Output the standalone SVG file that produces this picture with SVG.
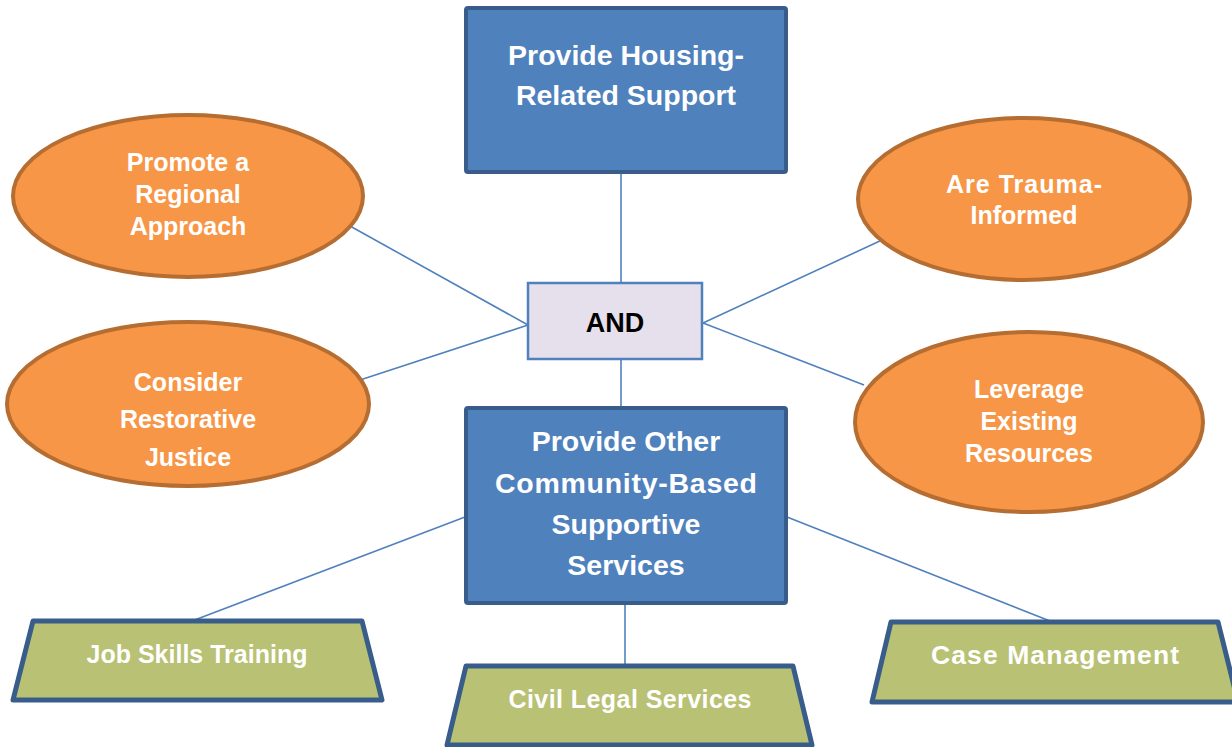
<svg xmlns="http://www.w3.org/2000/svg" width="1232" height="747" viewBox="0 0 1232 747">
<style>
.box{fill:#4F81BD;stroke:#385D8A;stroke-width:4;stroke-linejoin:round}
.ell{fill:#F79646;stroke:#B66D31;stroke-width:4}
.trap{fill:#B9C174;stroke:#385D8A;stroke-width:5;stroke-linejoin:round}
.and{fill:#E6E0EC;stroke:#4F81BD;stroke-width:2.5}
.conn line{stroke:#4F81BD;stroke-width:1.6}
text{font-family:"Liberation Sans",Arial,sans-serif;font-weight:bold;text-anchor:middle;fill:#FFFFFF}
.big{font-size:28.5px}
.mid{font-size:25px}
.andt{font-size:27px;fill:#000000}
</style>
<rect width="1232" height="747" fill="#FFFFFF"/>
<g class="conn" id="connectors">
<line x1="621" y1="171" x2="621" y2="283"/>
<line x1="621" y1="359" x2="621" y2="408"/>
<line x1="350" y1="226" x2="528" y2="325"/>
<line x1="360" y1="380" x2="528" y2="325"/>
<line x1="882" y1="240" x2="703" y2="323"/>
<line x1="864" y1="385" x2="703" y2="323"/>
<line x1="465" y1="517" x2="192" y2="621"/>
<line x1="787" y1="517" x2="1050" y2="621"/>
<line x1="625" y1="603" x2="625" y2="666"/>
</g>
<g id="housing">
<rect class="box" x="466" y="8" width="320" height="164" rx="2"/>
<text class="big" x="626" y="65">Provide Housing-</text>
<text class="big" x="626" y="105">Related Support</text>
</g>
<g id="and">
<rect class="and" x="528" y="283" width="174" height="76"/>
<text class="andt" x="615" y="332">AND</text>
</g>
<g id="other">
<rect class="box" x="466" y="408" width="320" height="195" rx="2"/>
<text class="big" x="626" y="451">Provide Other</text>
<text class="big" x="626" y="493" textLength="262" lengthAdjust="spacing">Community-Based</text>
<text class="big" x="626" y="534">Supportive</text>
<text class="big" x="626" y="575">Services</text>
</g>
<g id="regional">
<ellipse class="ell" cx="188" cy="196" rx="175" ry="81"/>
<text class="mid" x="188" y="171">Promote a</text>
<text class="mid" x="188" y="203">Regional</text>
<text class="mid" x="188" y="235">Approach</text>
</g>
<g id="restorative">
<ellipse class="ell" cx="188" cy="404" rx="181" ry="82"/>
<text class="mid" x="188" y="391">Consider</text>
<text class="mid" x="188" y="428">Restorative</text>
<text class="mid" x="188" y="466">Justice</text>
</g>
<g id="trauma">
<ellipse class="ell" cx="1024" cy="199" rx="166" ry="81"/>
<text class="mid" x="1024" y="193" textLength="156" lengthAdjust="spacing">Are Trauma-</text>
<text class="mid" x="1024" y="224">Informed</text>
</g>
<g id="leverage">
<ellipse class="ell" cx="1029" cy="422" rx="174" ry="90"/>
<text class="mid" x="1029" y="398">Leverage</text>
<text class="mid" x="1029" y="430">Existing</text>
<text class="mid" x="1029" y="462">Resources</text>
</g>
<g id="jobskills">
<polygon class="trap" points="33,621 362,621 382,700 13,700"/>
<text class="mid" x="197" y="663">Job Skills Training</text>
</g>
<g id="legal">
<polygon class="trap" points="466,666 793,666 812,745 447,745"/>
<text class="mid" x="630" y="708" textLength="243" lengthAdjust="spacing">Civil Legal Services</text>
</g>
<g id="casemgmt">
<polygon class="trap" points="891,622 1218,622 1238,702 872,702"/>
<text class="mid" x="1055" y="664" style="font-size:26.5px" textLength="248" lengthAdjust="spacing">Case Management</text>
</g>
</svg>
